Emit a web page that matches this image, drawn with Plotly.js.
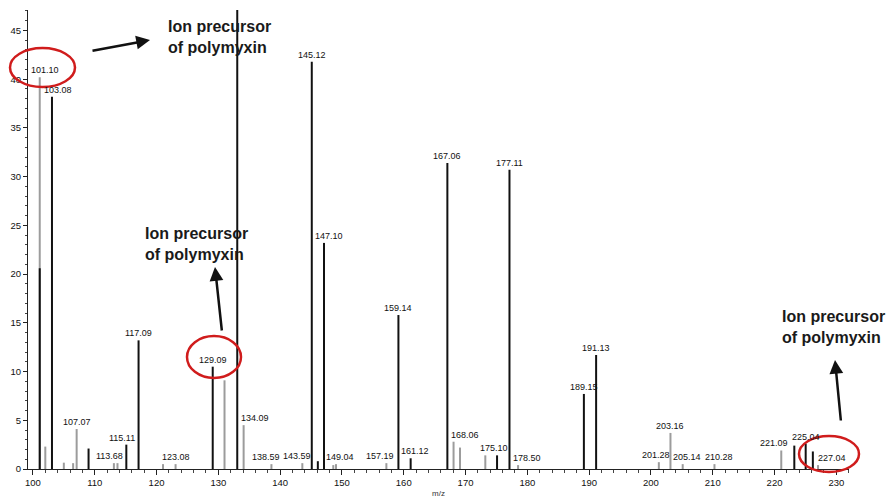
<!DOCTYPE html>
<html>
<head>
<meta charset="utf-8">
<script src="https://cdn.plot.ly/plotly-3.0.1.min.js"></script>
<style>html,body{margin:0;padding:0;background:#fff;}#chart{width:886px;height:500px;}</style>
</head>
<body>
<div id="chart"></div>
<script>
// ---- data (m/z, relative intensity, peak label) ----
const blackMz  = [101.10, 103.08, 109.0, 115.11, 117.09, 129.09, 133.06, 145.12, 146.1, 147.10, 159.14, 161.12, 167.06, 175.10, 177.11, 189.15, 191.13, 223.2, 225.04, 226.2];
const blackInt = [20.6,   38.2,   2.1,   2.5,    13.2,   10.5,   100,    41.8,   0.8,   23.2,   15.8,   1.1,    31.4,   1.4,    30.7,   7.7,    11.7,   2.4,   2.6,    1.8];
const blackLbl = ["",     "103.08","",   "115.11","117.09","129.09","",    "145.12","",   "147.10","159.14","161.12","167.06","175.10","177.11","189.15","191.13","", "225.04", ""];

const grayMz  = [101.10, 102.0, 105.0, 106.5, 107.07, 113.1, 113.68, 121.05, 123.08, 131.0, 134.09, 138.59, 143.59, 148.6, 149.04, 157.19, 168.06, 169.1, 173.2, 178.50, 201.28, 203.16, 205.14, 210.28, 221.09, 227.04];
const grayInt = [40.2,   2.3,   0.65,  0.6,   4.1,    0.6,   0.6,    0.5,    0.5,    9.1,   4.5,    0.5,    0.6,    0.4,   0.5,    0.6,    2.8,    2.2,   1.4,   0.4,    0.7,    3.7,    0.5,    0.5,    1.9,    0.4];
const grayLbl = ["101.10","",    "",    "",    "107.07","",    "113.68","",     "123.08","",    "134.09","138.59","143.59","",    "149.04","157.19","168.06","",    "",    "178.50","201.28","203.16","205.14","210.28","221.09","227.04"];

const xTickVals = [100,110,120,130,140,150,160,170,180,190,200,210,220,230];
const yTickVals = [0,5,10,15,20,25,30,35,40,45];
const noteText = "Ion precursor<br>of polymyxin";

// ---- layout geometry ----
const L = 28, R = 849, T = 10, B = 469, W = 886, H = 500;
const px = v => (v - L) / (R - L);
const py = v => (B - v) / (B - T);

function stems(xs, ys) {
  const X = [], Y = [];
  xs.forEach((x, i) => { X.push(x, x, null); Y.push(0, ys[i], null); });
  return {X, Y};
}
const g = stems(grayMz, grayInt);
const b = stems(blackMz, blackInt);

const traces = [
  {type: 'scatter', mode: 'lines', x: g.X, y: g.Y, line: {color: '#9c9c9c', width: 2}, hoverinfo: 'skip', showlegend: false},
  {type: 'scatter', mode: 'lines', x: b.X, y: b.Y, line: {color: '#111111', width: 2}, hoverinfo: 'skip', showlegend: false}
];

// horizontal label nudges (pixels), as placed in the reference
const nudge = {"101.10": 5, "103.08": 6, "113.68": -8, "115.11": -4, "134.09": 11, "138.59": -5, "143.59": -5,
  "147.10": 5, "149.04": 4, "157.19": -6, "161.12": 4, "168.06": 11, "175.10": -3, "178.50": 9,
  "201.28": -3, "205.14": 4, "210.28": 5, "221.09": -7, "227.04": 14};

const lblFont = {family: '"Liberation Sans", Arial, sans-serif', size: 9, color: '#111'};
const annotations = [];
function addLabels(xs, ys, ls) {
  xs.forEach((x, i) => {
    if (!ls[i]) return;
    annotations.push({x: x, y: Math.min(ys[i], 46), xref: 'x', yref: 'y', text: ls[i], showarrow: false,
      xanchor: 'center', yanchor: 'bottom', yshift: 0, xshift: nudge[ls[i]] || 0, font: lblFont});
  });
}
addLabels(grayMz, grayInt, grayLbl);
addLabels(blackMz, blackInt, blackLbl);

const noteFont = {family: '"Liberation Sans", Arial, sans-serif', size: 16, color: '#1a1a1a'};
[[166, 37], [143, 244], [780, 327]].forEach(p => {
  annotations.push({x: px(p[0]), y: py(p[1]), xref: 'paper', yref: 'paper', text: '<b>' + noteText + '</b>',
    showarrow: false, xanchor: 'left', yanchor: 'middle', align: 'left', font: noteFont});
});
// arrows: [headX, headY, tailX, tailY]
[[150, 40, 91, 51], [215, 267, 222, 332], [835, 360, 841, 422]].forEach(a => {
  annotations.push({x: px(a[0]), y: py(a[1]), xref: 'paper', yref: 'paper', text: '', showarrow: true,
    ax: a[2] - a[0], ay: a[3] - a[1], arrowhead: 2, arrowsize: 1.1, arrowwidth: 2.5, arrowcolor: '#111',
    standoff: 0, startstandoff: 0});
});

const ellipses = [[10, 48, 75, 87], [187, 336, 241, 378], [799, 436, 859, 472]];
const shapes = ellipses.map(e => ({type: 'circle', xref: 'paper', yref: 'paper',
  x0: px(e[0]), x1: px(e[2]), y0: py(e[3]), y1: py(e[1]), line: {color: '#d01c1c', width: 2.5}}));

const tickFont = {family: '"Liberation Sans", Arial, sans-serif', size: 9.5, color: '#111'};
const layout = {
  width: W, height: H,
  margin: {l: L, r: W - R, t: T, b: H - B},
  paper_bgcolor: '#fff', plot_bgcolor: '#fff',
  showlegend: false,
  xaxis: {range: [99.2, 232.05], tickvals: xTickVals, ticktext: xTickVals.map(String), showgrid: false, zeroline: false,
    showline: true, linecolor: '#222', linewidth: 1, ticks: 'outside', ticklen: 5, tickcolor: '#222', tickfont: tickFont,
    minor: {dtick: 2, tick0: 100, ticks: 'outside', ticklen: 3, tickcolor: '#444', showgrid: false},
    title: {text: 'm/z', font: {family: 'Arial, sans-serif', size: 8, color: '#333'}, standoff: 2}},
  yaxis: {range: [0, 47.1], tickvals: yTickVals, ticktext: yTickVals.map(String), showgrid: false, zeroline: false,
    showline: true, linecolor: '#222', linewidth: 1, ticks: 'outside', ticklen: 4, tickcolor: '#222', tickfont: tickFont,
    minor: {dtick: 1, tick0: 0, ticks: 'outside', ticklen: 2, tickcolor: '#444', showgrid: false}},
  annotations: annotations,
  shapes: shapes
};
Plotly.newPlot('chart', traces, layout, {staticPlot: true, displayModeBar: false});
</script>
</body>
</html>
